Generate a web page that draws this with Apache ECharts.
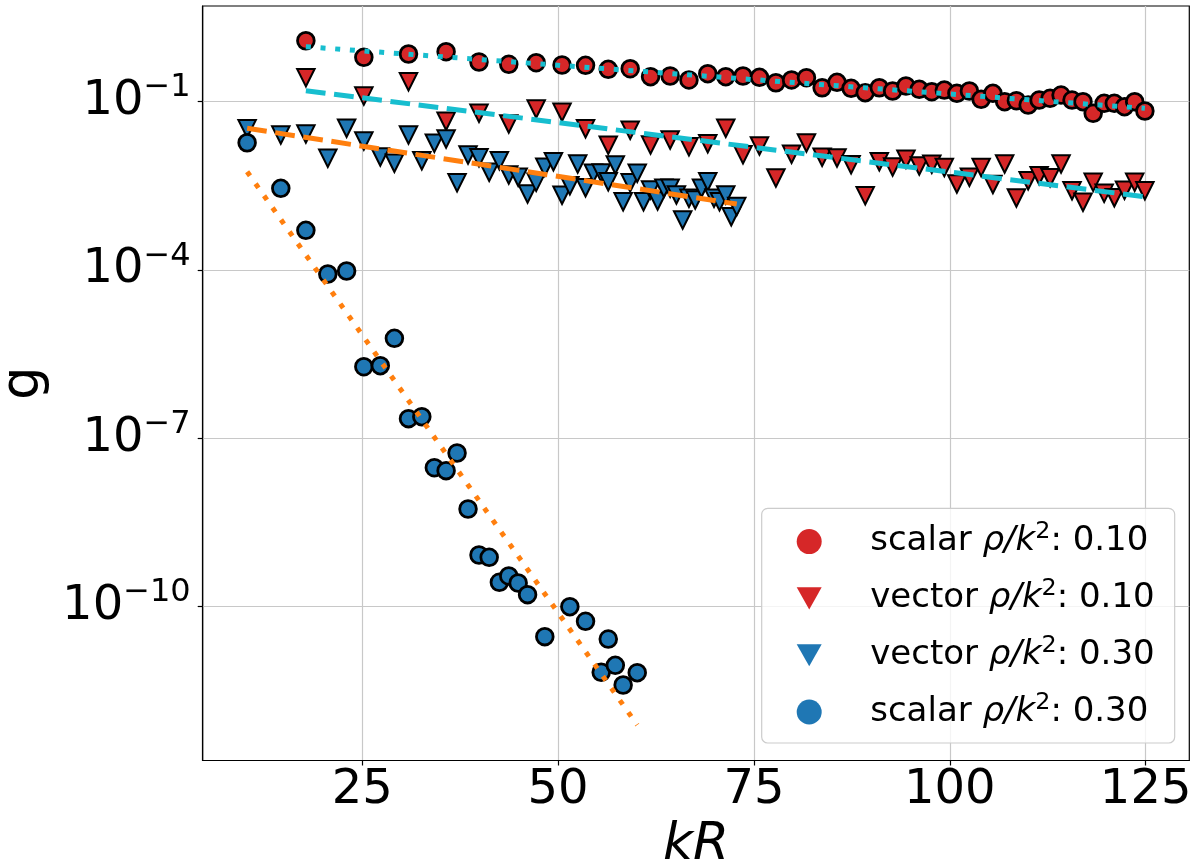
<!DOCTYPE html>
<html><head><meta charset="utf-8">
<script src="https://cdn.jsdelivr.net/npm/echarts@6/dist/echarts.min.js"></script>
<style>html,body{margin:0;padding:0;background:#fff}#c{width:1199px;height:868px}</style>
</head><body><div id="c"></div>
<script>
const FONT = 'DejaVu Sans';

// ---- data ----
const kR_01 = [17.8, 25.2, 30.9, 35.7, 39.9, 43.7, 47.2, 50.5, 53.5, 56.4, 59.2, 61.8, 64.3, 66.7, 69.1, 71.4, 73.6, 75.7, 77.8, 79.8, 81.7, 83.7, 85.6, 87.4, 89.2, 91.0, 92.7, 94.4, 96.1, 97.7, 99.3, 100.9, 102.5, 104.0, 105.5, 107.0, 108.5, 110.0, 111.4, 112.8, 114.2, 115.6, 117.0, 118.3, 119.7, 121.0, 122.3, 123.6, 124.9];
const g_scalar_01 = [1.21, 0.613, 0.702, 0.772, 0.506, 0.460, 0.491, 0.447, 0.442, 0.375, 0.384, 0.277, 0.285, 0.242, 0.313, 0.277, 0.285, 0.270, 0.216, 0.242, 0.266, 0.176, 0.220, 0.172, 0.1435, 0.176, 0.154, 0.189, 0.165, 0.1495, 0.160, 0.140, 0.154, 0.1094, 0.140, 0.0992, 0.1033, 0.0866, 0.1063, 0.114, 0.1305, 0.1063, 0.0992, 0.0616, 0.0929, 0.0929, 0.0808, 0.0992, 0.0677];
const g_vector_01 = [0.266, 0.125, 0.2254, 0.0444, 0.0616, 0.0397, 0.0735, 0.0642, 0.0328, 0.0166, 0.0307, 0.0168, 0.0206, 0.01565, 0.0177, 0.0333, 0.01127, 0.0161, 0.00433, 0.01146, 0.0182, 0.01013, 0.00985, 0.00748, 0.0021, 0.00846, 0.0068, 0.00933, 0.00709, 0.0076, 0.00667, 0.00339, 0.00446, 0.00667, 0.00332, 0.0077, 0.00191, 0.00388, 0.00476, 0.00439, 0.0077, 0.00257, 0.0016, 0.00363, 0.00231, 0.00193, 0.00262, 0.00363, 0.00257];

const kR_03v = [10.3, 14.6, 17.8, 20.6, 23.0, 25.2, 27.3, 29.1, 30.9, 32.6, 34.2, 35.7, 37.1, 38.5, 39.9, 41.2, 42.5, 43.7, 44.9, 46.1, 47.2, 48.3, 49.4, 50.5, 51.5, 52.5, 53.5, 54.5, 55.5, 56.4, 57.3, 58.3, 59.2, 60.1, 60.9, 61.8, 62.7, 63.5, 64.3, 65.1, 65.9, 66.7, 67.5, 68.3, 69.1, 69.9, 70.6, 71.4, 72.1, 72.8];
const g_vector_03 = [0.0328, 0.0253, 0.0264, 0.00973, 0.0333, 0.0198, 0.01026, 0.00792, 0.0253, 0.00881, 0.018, 0.0215, 0.00357, 0.01113, 0.00997, 0.00548, 0.00881, 0.0049, 0.00446, 0.00225, 0.00363, 0.00672, 0.00846, 0.00213, 0.00316, 0.0077, 0.00291, 0.00526, 0.00532, 0.00372, 0.00739, 0.00164, 0.00357, 0.00526, 0.00164, 0.00265, 0.00169, 0.00284, 0.00284, 0.00216, 0.000774, 0.00188, 0.00176, 0.00284, 0.00372, 0.00188, 0.00164, 0.00216, 0.000886, 0.00134];

const kR_03s = [10.3, 14.6, 17.8, 20.6, 23.0, 25.2, 27.3, 29.1, 30.9, 32.6, 34.2, 35.7, 37.1, 38.5, 39.9, 41.2, 42.5, 43.7, 44.9, 46.1, 48.3, 51.5, 53.5, 55.5, 56.4, 57.3, 58.3, 60.1];
const g_scalar_03 = [1.84e-2, 2.84e-3, 5.07e-4, 8.44e-5, 9.54e-5, 1.88e-6, 1.96e-6, 6.03e-6, 2.23e-7, 2.42e-7, 2.98e-8, 2.64e-8, 5.45e-8, 5.48e-9, 8.30e-10, 7.55e-10, 2.71e-10, 3.51e-10, 2.63e-10, 1.63e-10, 2.91e-11, 9.95e-11, 5.47e-11, 6.75e-12, 2.64e-11, 8.98e-12, 4.0e-12, 6.63e-12];

// fit lines (end points)
const fit_scalar_01_x = [17.8, 124.9];
const fit_scalar_01_g = [0.947, 0.0756];
const fit_vector_01_x = [17.8, 124.9];
const fit_vector_01_g = [0.1557, 0.00201];
const fit_vector_03_x = [10.3, 72.8];
const fit_vector_03_g = [0.0333, 0.00149];
const fit_scalar_03_x = [10.3, 60.1];
const fit_scalar_03_g = [0.00561, 7.76e-13];

const xTicks = [25, 50, 75, 100, 125];
const yTicks = [1e-10, 1e-7, 1e-4, 1e-1];
const seriesNames = ['scalar 0.10', 'vector 0.10', 'vector 0.30', 'scalar 0.30'];
const legendKind = ['scalar', 'vector', 'vector', 'scalar'];
const legendRho = ['0.10', '0.10', '0.30', '0.30'];

// ---- styles ----
const RED = '#d62728', BLUE = '#1f77b4', CYAN = '#17becf', ORANGE = '#ff7f0e';
const DOTTED = [5, 9.7], DASHED = [19.8, 8.6];
const zip = (a, b) => a.map((v, i) => [v, b[i]]);

function scatter(name, xs, ys, color, tri) {
  return {
    type: 'scatter', name: name, data: zip(xs, ys),
    symbol: tri ? 'triangle' : 'circle',
    symbolRotate: tri ? 180 : 0,
    symbolSize: tri ? 17.5 : 16.7,
    itemStyle: { color: color, borderColor: '#000', borderWidth: tri ? 2 : 2.8, opacity: 1 },
    emphasis: { disabled: true }, z: 2
  };
}
function fit(xs, ys, color, dash) {
  return {
    type: 'line', data: zip(xs, ys), symbol: 'none', showSymbol: false,
    lineStyle: { color: color, width: 5, type: dash, cap: 'butt' },
    emphasis: { disabled: true }, z: 3, silent: true
  };
}

const triIcon = 'path://M0,0L26,0L13,23Z';

const option = {
  animation: false,
  backgroundColor: '#fff',
  textStyle: { fontFamily: FONT },
  grid: { left: 202.7, top: 6, width: 986.6, height: 754.5, show: true, borderColor: '#000', borderWidth: 1.2, backgroundColor: 'transparent', containLabel: false, outerBoundsMode: 'none' },
  xAxis: {
    type: 'value', min: 4.63, max: 130.57,
    name: 'kR', nameLocation: 'middle', nameGap: 47,
    nameTextStyle: { fontSize: 52, fontStyle: 'italic', fontFamily: FONT, color: '#000' },
    axisLine: { show: true, lineStyle: { color: '#000', width: 1.2 } },
    axisTick: { show: true, length: 5, lineStyle: { color: '#000', width: 1.2 }, customValues: xTicks },
    axisLabel: { customValues: xTicks, fontSize: 48, fontFamily: FONT, color: '#000', margin: 6 },
    splitLine: { show: true, lineStyle: { color: '#c8c8c8', width: 1.2 } }
  },
  yAxis: {
    type: 'log', logBase: 10, min: 1.807e-13, max: 5.035,
    name: 'g', nameLocation: 'middle', nameGap: 149,
    nameTextStyle: { fontSize: 53, fontFamily: FONT, color: '#000' },
    axisLine: { show: true, lineStyle: { color: '#000', width: 1.2 } },
    axisTick: { show: true, length: 5, lineStyle: { color: '#000', width: 1.2 }, customValues: yTicks },
    axisLabel: {
      customValues: yTicks, margin: 12, color: '#000',
      formatter: function (v) { const e = Math.round(Math.log10(v)); return '{b|10}{s|' + (e < 0 ? '\u2212' : '') + Math.abs(e) + '}'; },
      rich: {
        b: { fontSize: 48, lineHeight: 59, fontFamily: FONT, color: '#000' },
        s: { fontSize: 32, fontFamily: FONT, color: '#000', verticalAlign: 'top' }
      }
    },
    splitLine: { show: true, lineStyle: { color: '#c8c8c8', width: 1.2 } }
  },
  legend: {
    orient: 'vertical', left: 761.7, top: 508.3,
    padding: [12, 20, 14, 35],
    itemWidth: 25, itemHeight: 25, itemGap: 18.5,
    backgroundColor: 'rgba(255,255,255,0.8)', borderColor: '#cccccc', borderWidth: 1.2, borderRadius: 6,
    selectedMode: false,
    itemStyle: { borderWidth: 0 },
    data: [
      { name: seriesNames[0], icon: 'circle' },
      { name: seriesNames[1], icon: triIcon },
      { name: seriesNames[2], icon: triIcon },
      { name: seriesNames[3], icon: 'circle' }
    ],
    formatter: function (name) {
      const i = seriesNames.indexOf(name);
      return '{g|}{t|' + legendKind[i] + ' }{i|\u03c1/k}{s|2}{t|: ' + legendRho[i] + '}';
    },
    textStyle: {
      rich: {
        g: { width: 43.5, lineHeight: 42.6 },
        t: { fontSize: 34, lineHeight: 42.6, fontFamily: FONT, color: '#000' },
        i: { fontSize: 34, lineHeight: 42.6, fontFamily: FONT, fontStyle: 'italic', color: '#000' },
        s: { fontSize: 23.8, fontFamily: FONT, color: '#000', verticalAlign: 'top' }
      }
    }
  },
  series: [
    scatter(seriesNames[0], kR_01, g_scalar_01, RED, false),
    scatter(seriesNames[1], kR_01, g_vector_01, RED, true),
    scatter(seriesNames[2], kR_03v, g_vector_03, BLUE, true),
    scatter(seriesNames[3], kR_03s, g_scalar_03, BLUE, false),
    fit(fit_scalar_01_x, fit_scalar_01_g, CYAN, DOTTED),
    fit(fit_vector_01_x, fit_vector_01_g, CYAN, DASHED),
    fit(fit_vector_03_x, fit_vector_03_g, ORANGE, DASHED),
    fit(fit_scalar_03_x, fit_scalar_03_g, ORANGE, DOTTED)
  ]
};
const chart = echarts.init(document.getElementById('c'));
chart.setOption(option);
</script></body></html>
